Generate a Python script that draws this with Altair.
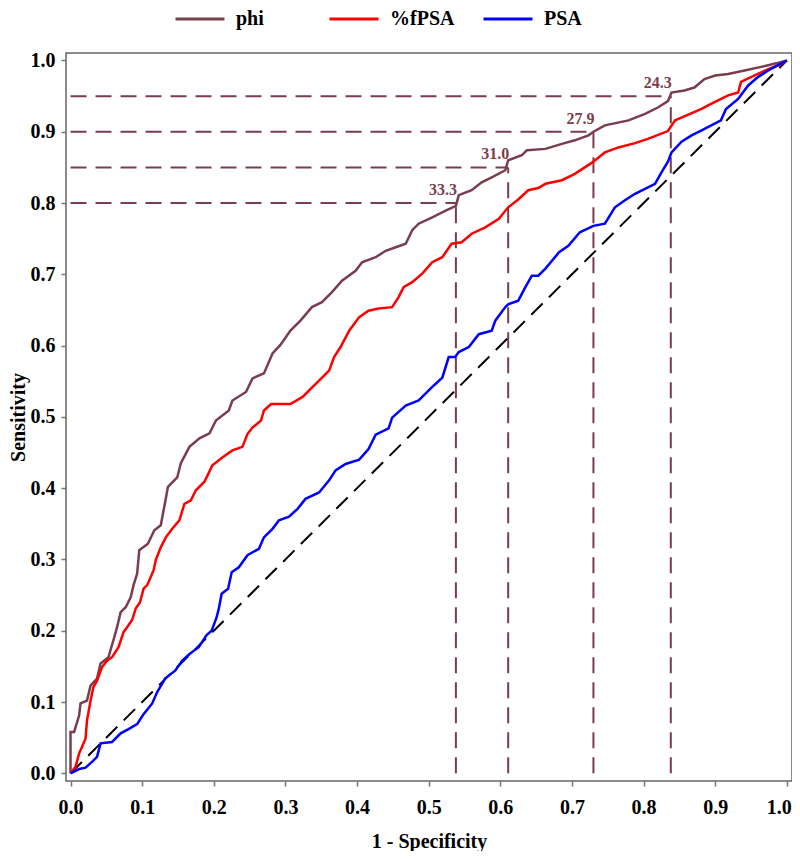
import altair as alt
import pandas as pd

# ---------------- data ----------------
phi_x = [0.0, 0.0, 0.005, 0.012, 0.014, 0.023, 0.028, 0.037, 0.042, 0.053, 0.060, 0.065, 0.070, 0.077,
         0.084, 0.088, 0.093, 0.096, 0.108, 0.117, 0.126, 0.132, 0.136, 0.149, 0.154, 0.166, 0.180,
         0.194, 0.203, 0.221, 0.226, 0.245, 0.254, 0.270, 0.282, 0.293, 0.307, 0.321, 0.337, 0.351,
         0.365, 0.379, 0.398, 0.407, 0.426, 0.440, 0.454, 0.468, 0.477, 0.486, 0.505, 0.523, 0.538,
         0.542, 0.560, 0.574, 0.588, 0.607, 0.611, 0.630, 0.637, 0.663, 0.686, 0.704, 0.723, 0.730,
         0.746, 0.779, 0.802, 0.820, 0.834, 0.839, 0.857, 0.871, 0.885, 0.900, 0.918, 0.941, 0.964,
         0.985, 1.0]
phi_y = [0.0, 0.058, 0.058, 0.081, 0.098, 0.102, 0.123, 0.133, 0.154, 0.163, 0.187, 0.205, 0.226, 0.233,
         0.247, 0.264, 0.280, 0.313, 0.322, 0.341, 0.348, 0.380, 0.402, 0.415, 0.435, 0.458, 0.470,
         0.477, 0.495, 0.509, 0.523, 0.535, 0.554, 0.561, 0.589, 0.601, 0.621, 0.635, 0.654, 0.661,
         0.675, 0.691, 0.705, 0.717, 0.724, 0.733, 0.738, 0.743, 0.762, 0.771, 0.780, 0.789, 0.796,
         0.811, 0.818, 0.829, 0.836, 0.846, 0.860, 0.867, 0.874, 0.876, 0.883, 0.888, 0.895, 0.900,
         0.909, 0.916, 0.925, 0.934, 0.943, 0.955, 0.958, 0.962, 0.974, 0.979, 0.981, 0.986, 0.991,
         0.996, 1.0]

fpsa_x = [0.0, 0.007, 0.012, 0.016, 0.021, 0.023, 0.028, 0.032, 0.037, 0.044, 0.051, 0.058, 0.067,
          0.074, 0.079, 0.086, 0.091, 0.097, 0.102, 0.107, 0.111, 0.116, 0.119, 0.126, 0.133, 0.142,
          0.152, 0.159, 0.168, 0.175, 0.187, 0.198, 0.212, 0.226, 0.240, 0.247, 0.254, 0.266, 0.270,
          0.280, 0.307, 0.324, 0.337, 0.347, 0.361, 0.368, 0.377, 0.389, 0.403, 0.416, 0.430, 0.449,
          0.458, 0.465, 0.477, 0.491, 0.505, 0.519, 0.532, 0.546, 0.560, 0.579, 0.598, 0.611, 0.625,
          0.639, 0.653, 0.663, 0.686, 0.704, 0.727, 0.746, 0.765, 0.788, 0.806, 0.834, 0.844, 0.860,
          0.881, 0.890, 0.918, 0.932, 0.936, 0.955, 0.974, 0.992, 1.0]
fpsa_y = [0.0, 0.009, 0.028, 0.037, 0.049, 0.074, 0.102, 0.121, 0.130, 0.149, 0.158, 0.163, 0.177,
          0.198, 0.205, 0.215, 0.231, 0.240, 0.259, 0.264, 0.273, 0.285, 0.299, 0.317, 0.331, 0.343,
          0.355, 0.378, 0.383, 0.397, 0.409, 0.432, 0.443, 0.453, 0.458, 0.476, 0.485, 0.495, 0.509,
          0.518, 0.518, 0.528, 0.541, 0.551, 0.565, 0.584, 0.598, 0.621, 0.640, 0.649, 0.652, 0.654,
          0.668, 0.682, 0.689, 0.701, 0.717, 0.724, 0.743, 0.745, 0.757, 0.766, 0.778, 0.794, 0.805,
          0.818, 0.821, 0.827, 0.832, 0.841, 0.856, 0.871, 0.878, 0.884, 0.890, 0.901, 0.916, 0.923,
          0.932, 0.937, 0.951, 0.955, 0.970, 0.979, 0.988, 0.995, 1.0]

psa_x = [0.0, 0.012, 0.021, 0.030, 0.037, 0.042, 0.058, 0.070, 0.081, 0.093, 0.102, 0.114, 0.121,
         0.132, 0.146, 0.156, 0.167, 0.179, 0.190, 0.197, 0.204, 0.207, 0.211, 0.220, 0.225, 0.235,
         0.247, 0.263, 0.270, 0.282, 0.291, 0.305, 0.317, 0.328, 0.347, 0.361, 0.370, 0.384, 0.403,
         0.416, 0.426, 0.444, 0.449, 0.468, 0.486, 0.505, 0.519, 0.528, 0.537, 0.542, 0.556, 0.570,
         0.588, 0.593, 0.607, 0.611, 0.625, 0.635, 0.644, 0.653, 0.663, 0.682, 0.695, 0.711, 0.730,
         0.746, 0.760, 0.774, 0.788, 0.802, 0.816, 0.825, 0.834, 0.839, 0.853, 0.867, 0.881, 0.908,
         0.915, 0.932, 0.946, 0.960, 0.974, 0.987, 1.0]
psa_y = [0.0, 0.006, 0.008, 0.016, 0.023, 0.042, 0.044, 0.056, 0.062, 0.069, 0.083, 0.098, 0.114,
         0.133, 0.144, 0.158, 0.168, 0.177, 0.194, 0.200, 0.219, 0.231, 0.252, 0.259, 0.282, 0.289,
         0.306, 0.315, 0.331, 0.343, 0.355, 0.360, 0.371, 0.385, 0.394, 0.411, 0.425, 0.434, 0.440,
         0.455, 0.475, 0.484, 0.499, 0.516, 0.523, 0.542, 0.555, 0.584, 0.584, 0.591, 0.598, 0.616,
         0.621, 0.635, 0.654, 0.658, 0.663, 0.682, 0.698, 0.698, 0.708, 0.731, 0.740, 0.759, 0.768,
         0.771, 0.794, 0.804, 0.813, 0.820, 0.827, 0.843, 0.858, 0.871, 0.886, 0.895, 0.902, 0.916,
         0.932, 0.946, 0.965, 0.977, 0.986, 0.993, 1.0]

series_names = ["phi", "%fPSA", "PSA"]
series_colors = ["#7a3d4c", "#ff0000", "#0000ff"]

cut_x = [0.538, 0.611, 0.730, 0.838]        # 1 - specificity at chosen cut-offs
cut_y = [0.80, 0.85, 0.90, 0.95]            # target sensitivities
cut_labels = ["33.3", "31.0", "27.9", "24.3"]

diag_x = [0.0, 1.0]
diag_y = [0.0, 1.0]

tick_values = [0.0, 0.1, 0.2, 0.3, 0.4, 0.5, 0.6, 0.7, 0.8, 0.9, 1.0]

# ---------------- tables ----------------
rows = []
for name, xs, ys in [("phi", phi_x, phi_y), ("%fPSA", fpsa_x, fpsa_y), ("PSA", psa_x, psa_y)]:
    for i, (a, b) in enumerate(zip(xs, ys)):
        rows.append({"series": name, "fpr": a, "tpr": b, "idx": i})
curves = pd.DataFrame(rows)

segs = []
for cx, cy in zip(cut_x, cut_y):
    segs.append({"x0": 0.0, "x1": cx, "y0": cy, "y1": cy})
    segs.append({"x0": cx, "x1": cx, "y0": 0.0, "y1": cy})
segs = pd.DataFrame(segs)
labels = pd.DataFrame({"x": cut_x, "y": cut_y, "lab": cut_labels})
diag = pd.DataFrame({"x": diag_x, "y": diag_y})

MAROON = "#7a3d4c"
FONT = "Liberation Serif"

xscale = alt.Scale(domain=[-0.0063, 1.0072], nice=False, zero=False)
yscale = alt.Scale(domain=[-0.0108, 1.0105], nice=False, zero=False)

xaxis = alt.Axis(values=tick_values, format=".1f", title="1 - Specificity",
                 titleX=363, titleY=66, titleAlign="center", titleBaseline="alphabetic",
                 labelPadding=11,
                 labelOffset={"condition": {"test": "datum.value >= 0.999", "value": -8}, "value": 0})
yaxis = alt.Axis(values=tick_values, format=".1f", title="Sensitivity",
                 titleX=-42, titleY=364, titleAngle=270, titleAlign="center",
                 titleBaseline="alphabetic", labelPadding=6)

ref_rules = alt.Chart(segs).mark_rule(color=MAROON, strokeWidth=2, strokeDash=[16, 9]).encode(
    x=alt.X("x0:Q", scale=xscale, axis=xaxis),
    x2="x1:Q",
    y=alt.Y("y0:Q", scale=yscale, axis=yaxis),
    y2="y1:Q",
)

diag_line = alt.Chart(diag).mark_line(color="black", strokeWidth=2, strokeDash=[16, 9]).encode(
    x=alt.X("x:Q", scale=xscale),
    y=alt.Y("y:Q", scale=yscale),
)

roc = alt.Chart(curves).mark_line(strokeWidth=2.5).encode(
    x=alt.X("fpr:Q", scale=xscale),
    y=alt.Y("tpr:Q", scale=yscale),
    color=alt.Color("series:N",
                    scale=alt.Scale(domain=series_names, range=series_colors),
                    legend=alt.Legend(title=None, orient="none", direction="horizontal",
                                      legendX=108, legendY=-60, columns=3, gridAlign="all",
                                      columnPadding=22, symbolType="stroke", symbolSize=2400,
                                      symbolStrokeWidth=3, labelOffset=10, labelFontSize=20,
                                      labelFontWeight="bold", labelFont=FONT, labelColor="black",
                                      padding=0)),
    order="idx:Q",
)

texts = alt.Chart(labels).mark_text(align="right", baseline="alphabetic", dx=1, dy=-8,
                                    fontSize=16, fontWeight="bold", font=FONT,
                                    color=MAROON).encode(
    x=alt.X("x:Q", scale=xscale),
    y=alt.Y("y:Q", scale=yscale),
    text="lab:N",
)

chart = alt.layer(ref_rules, diag_line, roc, texts).properties(
    width=726, height=728,
    autosize=alt.AutoSizeParams(type="none"),
    padding={"left": 58, "top": 45, "right": 0, "bottom": 70},
).configure_view(
    stroke="#666666", strokeWidth=1.5
).configure_axis(
    grid=False, domain=False, tickColor="#777777", tickSize=5, tickWidth=1.5,
    labelFont=FONT, labelFontSize=20, labelFontWeight="bold", labelColor="black",
    titleFont=FONT, titleFontSize=20, titleFontWeight="bold", titleColor="black",
)

chart.save("out.html", embed_options={"renderer": "svg", "actions": False})
